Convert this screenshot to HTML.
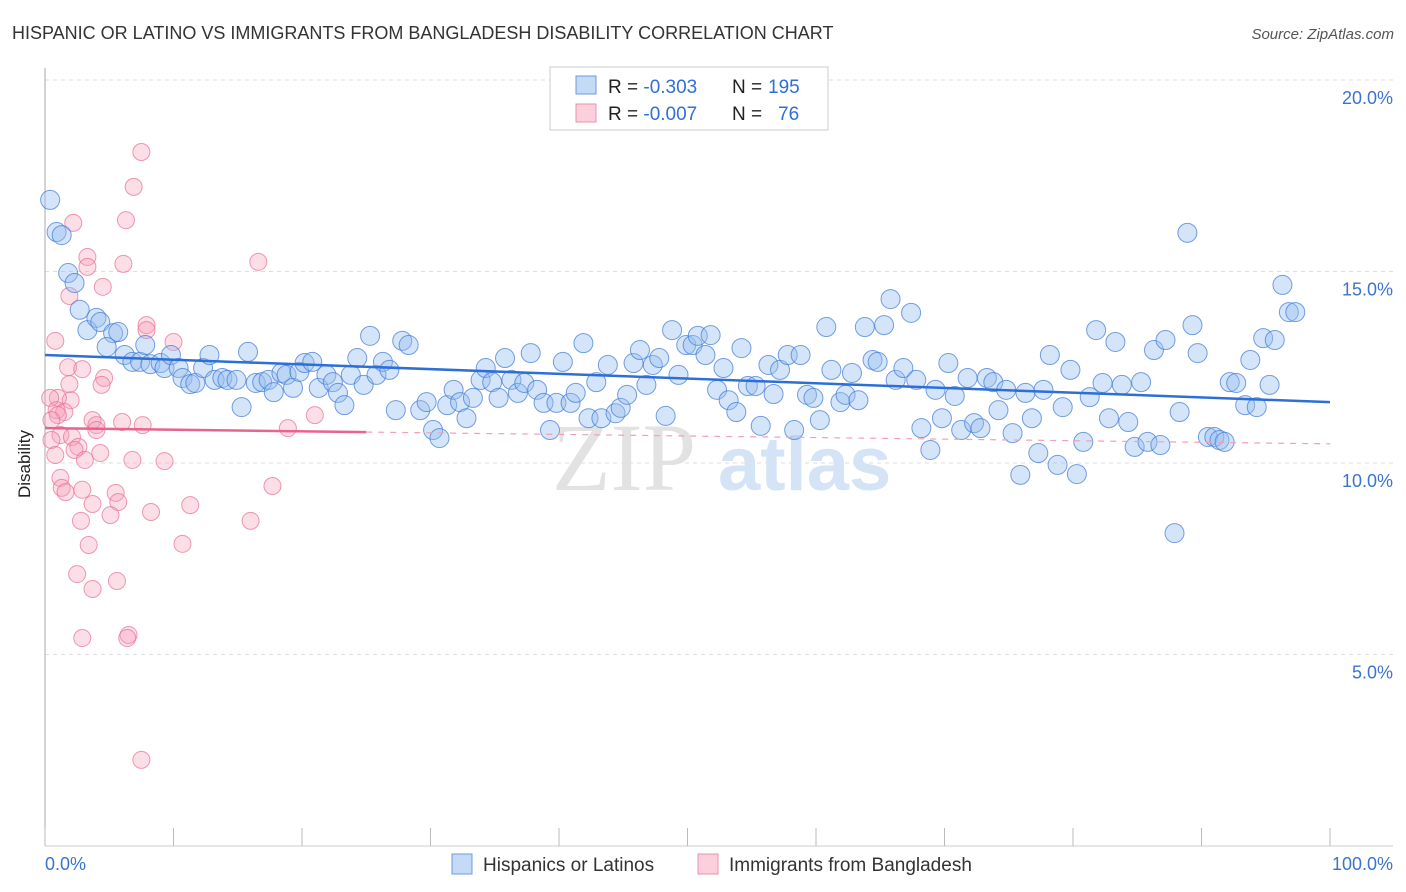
<!DOCTYPE html>
<html><head><meta charset="utf-8"><style>
body{margin:0;background:#fff;font-family:"Liberation Sans",sans-serif;}
svg{display:block}
</style></head><body>
<svg id="chart" width="1406" height="892" xmlns="http://www.w3.org/2000/svg">
<text x="12" y="39" font-size="18" fill="#333">HISPANIC OR LATINO VS IMMIGRANTS FROM BANGLADESH DISABILITY CORRELATION CHART</text>
<text x="1394" y="39" font-size="15" fill="#555" font-style="italic" text-anchor="end">Source: ZipAtlas.com</text>
<g id="grid"></g>
<g><text x="552" y="490" font-size="96" font-family="Liberation Serif,serif" fill="#e2e2e2">ZIP</text><text x="718" y="490" font-size="76" fill="#d4e3f5" font-weight="bold">atlas</text></g>
<line x1="45" y1="68" x2="45" y2="846" stroke="#aaa"/>
<line x1="45" y1="846" x2="1393" y2="846" stroke="#ccc"/>
<g id="xticks"></g>
<g id="pts"></g>
<g id="trend"></g>
<text x="22" y="456" font-size="17" fill="#222" transform="rotate(-90 30 456)" text-anchor="middle">Disability</text>
<text x="45" y="870" font-size="18" fill="#3a74d0">0.0%</text>
<text x="1393" y="870" font-size="18" fill="#3a74d0" text-anchor="end">100.0%</text>
<g>
<rect x="550" y="67" width="278" height="63" fill="#fff" stroke="#ccc"/>
<rect x="576" y="76" width="20" height="18" fill="#c5daf5" stroke="#6a9be0"/>
<rect x="576" y="104" width="20" height="18" fill="#fbd0dc" stroke="#ee8fab"/>
<text x="608" y="93" font-size="19" fill="#222">R = <tspan fill="#2f6fd6">-0.303</tspan><tspan x="732">N = </tspan><tspan fill="#2f6fd6" x="768">195</tspan></text>
<text x="608" y="120" font-size="19" fill="#222">R = <tspan fill="#2f6fd6">-0.007</tspan><tspan x="732">N = </tspan><tspan fill="#2f6fd6" x="778">76</tspan></text>
</g>
<g>
<rect x="452" y="854" width="20" height="20" fill="#c5daf5" stroke="#6a9be0"/>
<text x="483" y="871" font-size="19" fill="#333">Hispanics or Latinos</text>
<rect x="698" y="854" width="20" height="20" fill="#fbd0dc" stroke="#ee8fab"/>
<text x="729" y="871" font-size="19" fill="#333">Immigrants from Bangladesh</text>
</g>
</svg>
<script>
const yTicks=[5,10,15,20];
const xTickVals=[0,10,20,30,40,50,60,70,80,90,100];
const blueX=[0.4,0.9,1.3,1.8,2.3,2.7,3.3,4.0,4.3,5.3,5.7,4.8,6.2,6.8,7.4,7.8,8.2,9.0,9.3,9.8,10.4,10.7,11.3,11.7,12.3,12.8,13.2,13.8,14.2,14.9,15.3,15.8,16.4,16.9,17.4,17.8,18.4,18.8,19.3,19.8,20.2,20.8,21.3,21.9,22.4,22.8,23.3,23.8,24.3,24.8,25.3,25.8,26.3,26.8,27.3,27.8,28.3,29.2,29.7,30.2,30.7,31.3,31.8,32.3,32.8,33.3,33.9,34.3,34.8,35.3,35.8,36.3,36.8,37.3,37.8,38.3,38.8,39.3,39.8,40.3,40.9,41.3,41.9,42.3,42.9,43.3,43.8,44.4,44.8,45.3,45.8,46.3,46.8,47.3,47.8,48.3,48.8,49.3,49.9,50.4,50.8,51.4,51.8,52.3,52.8,53.2,53.8,54.2,54.7,55.3,55.7,56.3,56.7,57.2,57.8,58.3,58.8,59.3,59.8,60.3,60.8,61.2,61.9,62.3,62.8,63.3,63.8,64.4,64.8,65.3,65.8,66.2,66.8,67.4,67.8,68.2,68.9,69.3,69.8,70.3,70.8,71.3,71.8,72.3,72.8,73.3,73.8,74.2,74.8,75.3,75.9,76.3,76.8,77.3,77.7,78.2,78.8,79.2,79.8,80.3,80.8,81.3,81.8,82.3,82.8,83.3,83.8,84.3,84.8,85.3,85.8,86.3,86.8,87.2,87.9,88.3,88.9,89.3,89.7,90.5,91.0,91.4,91.8,92.2,92.7,93.4,93.8,94.3,94.8,95.3,95.7,96.3,96.8,97.3];
const blueY=[16.87,16.03,15.95,14.96,14.70,14.0,13.47,13.79,13.68,13.39,13.42,13.03,12.82,12.64,12.64,13.08,12.58,12.61,12.48,12.82,12.48,12.22,12.06,12.09,12.48,12.82,12.17,12.22,12.17,12.17,11.46,12.90,12.09,12.11,12.17,11.85,12.35,12.30,11.96,12.38,12.61,12.64,11.96,12.30,12.11,11.83,11.51,12.30,12.74,12.04,13.32,12.30,12.64,12.43,11.38,13.19,13.08,11.38,11.59,10.86,10.65,11.51,11.91,11.59,11.17,11.70,12.17,12.48,12.11,11.70,12.74,12.17,11.83,12.09,12.87,11.91,11.57,10.86,11.57,12.64,11.57,11.83,13.13,11.17,12.11,11.17,12.56,11.30,11.44,11.78,12.61,12.95,12.04,12.56,12.74,11.23,13.47,12.30,13.08,13.08,13.32,12.82,13.34,11.91,12.48,11.64,11.33,13.00,12.01,12.01,10.97,12.56,11.80,12.43,12.82,10.86,12.82,11.78,11.70,11.12,13.55,12.43,11.59,11.78,12.35,11.64,13.55,12.69,12.64,13.60,14.28,12.17,12.48,13.92,12.17,10.91,10.34,11.91,11.17,12.61,11.75,10.86,12.22,11.04,10.91,12.22,12.11,11.38,11.91,10.78,9.69,11.83,11.17,10.26,11.91,12.82,9.95,11.46,12.43,9.71,10.55,11.72,13.47,12.09,11.17,13.16,12.04,11.07,10.42,12.11,10.55,12.95,10.47,13.21,8.17,11.33,16.01,13.60,12.87,10.68,10.68,10.60,10.55,12.11,12.09,11.51,12.69,11.46,13.26,12.04,13.21,14.65,13.94,13.94];
const pinkX=[7.5,6.9,2.2,6.3,3.3,3.3,6.1,16.6,1.9,4.5,7.9,7.9,10.0,0.8,1.8,2.9,4.6,4.4,1.9,2.0,1.0,0.4,0.9,1.5,1.0,0.5,3.7,4.0,4.0,6.0,7.6,21.0,18.9,1.2,0.5,2.1,2.6,2.3,0.8,3.1,4.3,6.8,9.3,1.2,1.3,1.6,2.9,3.7,5.5,5.7,5.1,8.25,11.3,17.7,2.8,16.0,3.4,10.7,2.5,5.6,3.7,2.9,6.5,6.4,7.5];
const pinkY=[18.12,17.21,16.27,16.34,15.38,15.12,15.2,15.25,14.36,14.6,13.6,13.47,13.16,13.19,12.5,12.45,12.22,12.04,12.06,11.64,11.7,11.7,11.38,11.33,11.25,11.12,11.12,10.99,10.86,11.07,10.99,11.25,10.91,10.73,10.6,10.68,10.42,10.34,10.21,10.08,10.26,10.08,10.05,9.61,9.35,9.24,9.3,8.93,9.22,8.98,8.64,8.72,8.9,9.4,8.49,8.49,7.86,7.89,7.1,6.92,6.71,5.43,5.51,5.43,2.25];
const blueTrend=[12.82,11.59];
const pinkTrend=[10.91,10.5];
const pinkSolidEnd=25;
const NS="http://www.w3.org/2000/svg";
const X0=45,X1=1330,Y0=846,Y20=80;
const sx=v=>X0+(X1-X0)*v/100;
const sy=v=>Y0-(Y0-Y20)*v/20;
function mk(t,a,p){const e=document.createElementNS(NS,t);for(const k in a)e.setAttribute(k,a[k]);p.appendChild(e);return e;}
const grid=document.getElementById('grid');
yTicks.forEach(t=>{
  const l=mk('line',{x1:45,x2:1393,y1:sy(t),y2:sy(t),stroke:'#ddd','stroke-dasharray':'4,4'},grid);
  
  
  const tx=mk('text',{x:1393,y:sy(t)+24,'font-size':18,fill:'#3a74d0','text-anchor':'end'},grid);
  tx.textContent=t.toFixed(1)+'%';
  
  
});
const xt=document.getElementById('xticks');
xTickVals.forEach(t=>{
  const l=mk('line',{x1:sx(t),x2:sx(t),y1:828,y2:846,stroke:'#bbb'},xt);
  
  
});
const pts=document.getElementById('pts');
pinkX.forEach((x,i)=>{
  const c=mk('circle',{cx:sx(x),cy:sy(pinkY[i]),r:8.5,fill:'rgba(245,160,185,0.35)',stroke:'rgba(232,110,150,0.7)','stroke-width':1},pts);
  
  
});
blueX.forEach((x,i)=>{
  const c=mk('circle',{cx:sx(x),cy:sy(blueY[i]),r:9.5,fill:'rgba(150,190,240,0.4)',stroke:'rgba(60,120,215,0.7)','stroke-width':1},pts);
  
  
});
const tr=document.getElementById('trend');
const bl=mk('line',{x1:sx(0),y1:sy(blueTrend[0]),x2:sx(100),y2:sy(blueTrend[1]),stroke:'#2d6fd6','stroke-width':2.5},tr);


const pm=pinkTrend[0]+(pinkTrend[1]-pinkTrend[0])*pinkSolidEnd/100;
const ps=mk('line',{x1:sx(0),y1:sy(pinkTrend[0]),x2:sx(pinkSolidEnd),y2:sy(pm),stroke:'#e8648e','stroke-width':2.5},tr);


const pd=mk('line',{x1:sx(pinkSolidEnd),y1:sy(pm),x2:sx(100),y2:sy(pinkTrend[1]),stroke:'#f0a0b8','stroke-width':1.2,'stroke-dasharray':'6,6'},tr);


</script>
</body></html>
